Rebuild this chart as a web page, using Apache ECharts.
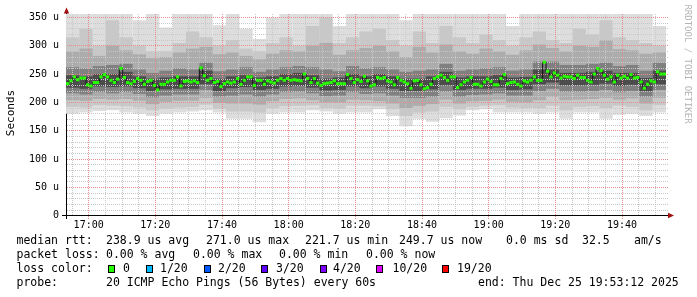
<!DOCTYPE html>
<html><head><meta charset="utf-8">
<script src="https://cdn.jsdelivr.net/npm/echarts@6/dist/echarts.min.js"></script>
<style>html,body{margin:0;padding:0;background:#fff}#c{width:697px;height:297px}</style>
</head><body><div id="c"></div>
<script>
// time axis in minutes of the day; 16:53:12 .. 19:53:12
const START_MIN = 1013.2;
const END_MIN = 1193.2;
const COL_MIN = 4; // smoke read at 4-minute resolution
const Y_MAX = 356;

// median rtt (us), one value per minute (180)
const MEDIAN = [
233,238,245,240,243,243,231,229,235,235,245,249,245,239,235,241,260,244,235,233,237,242,239,232,237,239,230,222,232,232,236,239,239,245,229,237,238,236,238,235,261,247,239,242,235,
237,228,233,236,234,236,242,232,239,245,245,230,239,239,232,238,236,234,239,242,239,242,239,240,239,238,250,242,235,242,234,230,233,234,235,238,233,233,233,249,242,235,240,237,246,
238,229,231,244,242,244,238,236,231,244,239,236,233,225,238,239,231,224,226,232,242,245,248,244,239,245,245,226,231,236,239,244,232,232,229,236,241,237,231,231,242,249,233,235,236,
232,229,238,236,239,245,239,239,271,255,245,252,248,243,246,245,245,242,248,244,244,239,236,250,260,256,248,241,245,236,248,243,246,243,249,243,244,236,225,232,238,236,254,250,250
];

// smoke bands (us), 45 columns of 4 minutes; U = upper, L = lower; 1 = outermost
const SMOKE_U1 = [360,360,360,360,360,345,360,332,360,360,360,336,360,330,312,350,360,360,360,360,335,360,360,360,360,345,360,360,360,360,360,360,360,335,360,360,360,360,360,360,360,360,360,360,335];
const SMOKE_U2 = [315,330,300,345,315,300,290,290,305,325,315,300,310,295,290,305,315,300,335,350,305,315,325,330,310,300,325,305,335,315,305,320,310,300,315,325,310,305,330,320,345,315,310,305,300];
const SMOKE_U3 = [290,295,282,300,292,285,278,280,288,295,298,285,288,282,276,286,292,290,300,305,284,292,296,300,290,280,298,288,302,290,286,295,290,284,292,302,296,290,300,298,310,294,292,286,288];
const SMOKE_U4 = [262,260,264,266,268,258,252,256,260,258,270,255,258,262,254,258,262,264,262,258,255,264,260,262,258,254,256,258,268,256,258,260,262,256,258,272,272,266,266,268,270,264,266,256,270];
const SMOKE_U5 = [248,246,250,250,254,246,242,244,246,246,256,242,246,248,244,246,250,252,248,242,244,250,246,250,246,242,242,246,254,244,246,246,248,244,245,258,258,252,252,254,256,252,252,243,256];
const SMOKE_L5 = [226,224,228,227,228,225,220,223,224,224,232,220,225,227,222,224,228,229,226,221,222,228,225,228,224,220,220,223,230,222,224,224,226,222,223,232,235,230,230,231,233,229,231,220,232];
const SMOKE_L4 = [216,214,218,216,218,215,209,212,214,214,222,210,212,214,210,214,218,219,216,211,212,218,215,216,212,208,208,210,219,210,213,214,216,212,212,220,224,219,219,220,222,218,220,210,222];
const SMOKE_L3 = [204,203,206,205,206,203,197,201,203,203,208,199,198,198,196,202,206,207,204,200,200,205,204,202,198,190,194,197,205,198,202,203,205,201,200,204,210,204,205,206,208,205,207,198,208];
const SMOKE_L2 = [192,191,195,194,193,191,186,189,191,192,196,189,184,184,182,190,193,194,195,190,189,194,194,193,188,176,182,184,192,188,192,194,195,191,190,190,194,186,192,193,190,194,192,186,195];
const SMOKE_L1 = [180,182,185,186,182,180,176,180,182,184,186,182,171,171,165,180,182,182,186,184,180,182,182,188,176,158,171,166,172,177,186,188,182,182,182,180,182,171,182,182,171,178,180,176,182];

const X_LABELS = [1020,1040,1060,1080,1100,1120,1140,1160,1180];
const Y_LABELS = [0,50,100,150,200,250,300,350];
const X_MINOR_STEP = 5, Y_MINOR_STEP = 10;

const LOSS_LABELS = ['0','1/20','2/20','3/20','4/20','10/20','19/20'];
const LOSS_COLORS = ['#26ff00','#00b8ff','#0059ff','#5e00ff','#7e00ff','#dd00ff','#ff0000'];

const MONO = 'DejaVu Sans Mono';

function hhmm(m){const h=Math.floor(m/60), mm=Math.round(m%60);return String(h).padStart(2,'0')+':'+String(mm).padStart(2,'0');}

// grid line values
const vMinor=[], vMajor=[], hMinor=[], hMajor=[];
for(let m=Math.ceil(START_MIN/X_MINOR_STEP)*X_MINOR_STEP; m<END_MIN; m+=X_MINOR_STEP){ (X_LABELS.indexOf(m)>=0?vMajor:vMinor).push([m,0]); }
for(let v=Y_MINOR_STEP; v<Y_MAX; v+=Y_MINOR_STEP){ (Y_LABELS.indexOf(v)>=0?hMajor:hMinor).push([START_MIN,v]); }

function clipR(r, cs){return echarts.graphic.clipRectByRect(r,{x:cs.x,y:cs.y,width:cs.width,height:cs.height});}

function bandSeries(U,L,color,z){
  const data = U.map((u,i)=>[START_MIN+i*COL_MIN, L[i], u]);
  return {type:'custom', z:z, silent:true, animation:false, data:data, encode:{x:0,y:[1,2]},
    renderItem:function(params,api){
      const x0=api.value(0), lo=api.value(1), hi=api.value(2);
      const p0=api.coord([x0,hi]), p1=api.coord([x0+COL_MIN,lo]);
      const r=clipR({x:p0[0],y:p0[1],width:p1[0]-p0[0],height:p1[1]-p0[1]}, params.coordSys);
      return r?{type:'rect',shape:r,style:{fill:color}}:null;
    }};
}
// dotted grid lines drawn as filled 1px dots
function dotsV(x,y1,y2){let d='';for(let y=y1;y<y2;y+=2)d+='M'+x+' '+y+'h1v1h-1z';return d;}
function dotsH(y,x1,x2){let d='';for(let x=x1;x<x2;x+=2)d+='M'+x+' '+y+'h1v1h-1z';return d;}
function vGridSeries(data,color,ext){
  return {type:'custom', z:5, silent:true, animation:false, data:data, encode:{x:0,y:1},
    renderItem:function(params,api){
      const cs=params.coordSys; const x=Math.floor(api.coord([api.value(0),0])[0]);
      return {type:'path',shape:{pathData:dotsV(x,Math.round(cs.y),Math.round(cs.y+cs.height)+ext)},style:{fill:color,stroke:null}};
    }};
}
function hGridSeries(data,color){
  return {type:'custom', z:5, silent:true, animation:false, data:data, encode:{x:0,y:1},
    renderItem:function(params,api){
      const cs=params.coordSys; const y=Math.floor(api.coord([api.value(0),api.value(1)])[1]);
      return {type:'path',shape:{pathData:dotsH(y,Math.round(cs.x)+1,Math.round(cs.x+cs.width)+3)},style:{fill:color,stroke:null}};
    }};
}

const series = [
  bandSeries(SMOKE_U1,SMOKE_L1,'#dddddd',1),
  bandSeries(SMOKE_U2,SMOKE_L2,'#c8c8c8',1),
  bandSeries(SMOKE_U3,SMOKE_L3,'#acacac',1),
  bandSeries(SMOKE_U4,SMOKE_L4,'#808080',1),
  bandSeries(SMOKE_U5,SMOKE_L5,'#4c4c4c',1),
  vGridSeries(vMinor,'#c8c8c8',0),
  hGridSeries(hMinor,'#c8c8c8'),
  vGridSeries(vMajor,'#e58c8c',3),
  hGridSeries(hMajor,'#e58c8c'),
  {type:'line', z:8, silent:true, animation:false, step:'middle', showSymbol:false,
    data:MEDIAN.map((v,i)=>[START_MIN+i+0.5,v]), lineStyle:{color:'#111',width:1}},
  {type:'custom', z:10, silent:true, animation:false, data:MEDIAN.map((v,i)=>[START_MIN+i,v]), encode:{x:0,y:1},
    renderItem:function(params,api){
      const x0=api.value(0), v=api.value(1);
      const p0=api.coord([x0,v]), p1=api.coord([x0+1,v]);
      return {type:'rect',shape:{x:p0[0],y:p0[1]-1.5,width:p1[0]-p0[0],height:3},style:{fill:LOSS_COLORS[0]}};
    }}
];

const FS = '11.5px ';
const graphic = [];
function txt(x,y,s){graphic.push({type:'text',x:x,y:y,silent:true,style:{text:s,fill:'#000',font:FS+MONO,textVerticalAlign:'middle'}});}
// y title
graphic.push({type:'text',x:11,y:113,rotation:Math.PI/2,silent:true,style:{text:'Seconds',fill:'#000',font:'11px '+MONO,textAlign:'center',textVerticalAlign:'middle'}});
// rrdtool watermark
graphic.push({type:'text',x:687,y:64,rotation:-Math.PI/2,silent:true,style:{text:'RRDTOOL / TOBI OETIKER',fill:'#b4b4b4',font:'9px '+MONO,textAlign:'center',textVerticalAlign:'middle'}});
// axis lines and arrows (filled shapes)
graphic.push({type:'rect',silent:true,shape:{x:66,y:13,width:1,height:206},style:{fill:'#000'}});
graphic.push({type:'rect',silent:true,shape:{x:62,y:215,width:606,height:1},style:{fill:'#000'}});
graphic.push({type:'polygon',silent:true,shape:{points:[[668,212.8],[674,215.5],[668,218.2]]},style:{fill:'#a01010'}});
graphic.push({type:'polygon',silent:true,shape:{points:[[63.8,13.5],[66.5,7.5],[69.2,13.5]]},style:{fill:'#a01010'}});

// legend lines
const ROW=[241.5,255.5,269.5,283.5];
const C1 = 106;
txt(16.5,ROW[0],'median rtt:');
txt(C1,ROW[0],'238.9 us avg');
txt(206,ROW[0],'271.0 us max');
txt(305,ROW[0],'221.7 us min');
txt(399,ROW[0],'249.7 us now');
txt(506,ROW[0],'0.0 ms sd');
txt(582,ROW[0],'32.5');
txt(634,ROW[0],'am/s');
txt(16.5,ROW[1],'packet loss:');
txt(C1,ROW[1],'0.00 % avg');
txt(193,ROW[1],'0.00 % max');
txt(279,ROW[1],'0.00 % min');
txt(366,ROW[1],'0.00 % now');
txt(16.5,ROW[2],'loss color:');
const SQ_X=[108.5,146.5,204.5,261.5,320.5,376.5,442.5];
const LB_X=[123,160,218,276,333,392.5,457];
LOSS_LABELS.forEach((l,i)=>{
  graphic.push({type:'rect',silent:true,shape:{x:SQ_X[i]-0.5,y:ROW[2]-4.5,width:7,height:8},style:{fill:'#000'}});
  graphic.push({type:'rect',silent:true,shape:{x:SQ_X[i]+0.5,y:ROW[2]-3.5,width:5,height:6},style:{fill:LOSS_COLORS[i]}});
  txt(LB_X[i],ROW[2],l);
});
txt(16.5,ROW[3],'probe:');
txt(C1,ROW[3],'20 ICMP Echo Pings (56 Bytes) every 60s');
txt(478,ROW[3],'end: Thu Dec 25 19:53:12 2025');

const chart = echarts.init(document.getElementById('c'),null,{renderer:'canvas'});
chart.setOption({
  backgroundColor:'#ffffff',
  animation:false,
  grid:{left:66,right:31,top:14,bottom:81.3,containLabel:false},
  xAxis:{type:'value',min:START_MIN,max:END_MIN,
    axisLine:{show:false},axisTick:{show:false},splitLine:{show:false},
    axisLabel:{customValues:X_LABELS,formatter:hhmm,color:'#000',fontFamily:MONO,fontSize:10,margin:5}},
  yAxis:{type:'value',min:0,max:Y_MAX,
    axisLine:{show:false},axisTick:{show:false},splitLine:{show:false},
    axisLabel:{customValues:Y_LABELS,formatter:v=>v===0?'0':v+' u',color:'#000',fontFamily:MONO,fontSize:10,margin:7}},
  series:series,
  graphic:graphic
});
</script></body></html>
